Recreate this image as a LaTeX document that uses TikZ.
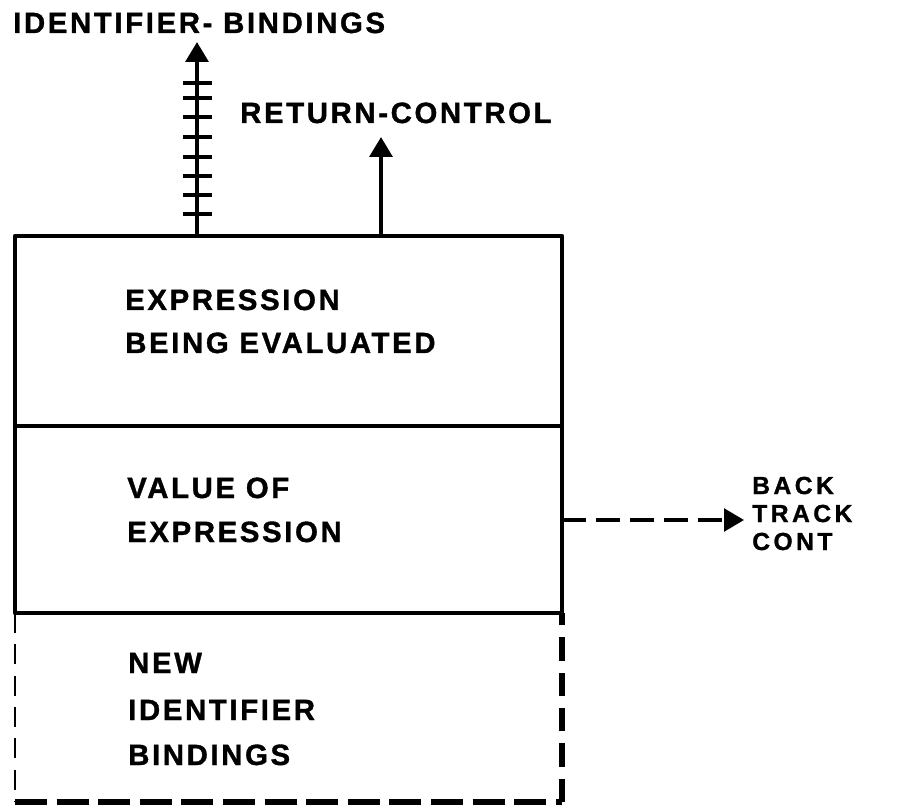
\documentclass[tikz,border=0pt]{standalone}
\usepackage{fontspec}
\setmainfont{Liberation Sans}[LetterSpace=9, BoldFeatures={FakeBold=1.2}]
\usetikzlibrary{arrows.meta}
\begin{document}
\begin{tikzpicture}[x=0.75pt,y=-0.75pt,
  lettering/.style={anchor=base west, inner sep=0pt, font=\bfseries\fontsize{22}{26}\selectfont},
  smallletter/.style={lettering,
    font=\bfseries\fontsize{18.5}{22}\selectfont\addfontfeature{LetterSpace=14},
    text height=13pt, text depth=0pt},
  frame/.style={line width=3.4pt, line join=round},
  flow/.style={line width=3.2pt, -{Triangle[length=15pt,width=17pt]}},
  hatch/.style={line width=2.6pt},
  backflow/.style={flow, line width=2.6pt, dash pattern=on 18pt off 7.5pt},
  sideghost/.style={line width=1.6pt, dash pattern=on 15pt off 8.5pt},
  baseghost/.style={line width=3.8pt, dash pattern=on 24pt off 7.2pt},
  rightghost/.style={line width=3.8pt, dash pattern=on 17.5pt off 9pt}]
\useasboundingbox (0,0) rectangle (904,806);

% corners of the record
\coordinate (tl) at (15,236);
\coordinate (tr) at (562,236);
\coordinate (ml) at (15,426);
\coordinate (mr) at (562,426);
\coordinate (bl) at (15,613);
\coordinate (br) at (562,613);
\coordinate (gl) at (15,802);
\coordinate (gr) at (562,802);

% solid record: expression and value
\draw[frame] (tl) rectangle (br);
\draw[frame] (ml) -- (mr);

% dashed extension: new bindings
\draw[sideghost] (bl) -- (gl);
\draw[baseghost] (gl) -- (gr);
\draw[rightghost] (gr) -- (br);

% texts inside the record
\node[lettering] (e1) at (125,310) {EXPRESSION};
\node[lettering] (e2) at (125,353) {BEING EVALUATED};
\node[lettering] (v1) at (127,498) {VALUE OF};
\node[lettering] (v2) at (127,542) {EXPRESSION};
\node[lettering] (n1) at (128,673) {NEW};
\node[lettering] (n2) at (128,720) {IDENTIFIER};
\node[lettering] (n3) at (128,765) {BINDINGS};

% outgoing links
\coordinate (idbase) at (197,236);
\coordinate (idtip) at (197,42);
\coordinate (rcbase) at (381,236);
\coordinate (rctip) at (381,137);
\coordinate (btbase) at (562,520);
\coordinate (bttip) at (744,520);

\draw[flow] (idbase) -- (idtip);
\foreach \ty in {83,98,117,137,157,176,195,214}
  \draw[hatch] (183,\ty) -- (212,\ty);
\draw[flow] (rcbase) -- (rctip);
\draw[backflow] (btbase) -- (bttip);

% link labels
\node[lettering] (idl) at (13,33) {IDENTIFIER- BINDINGS};
\node[lettering] (rcl) at (240,123) {RETURN-CONTROL};
\node[smallletter] (bt1) at (752,494) {BACK};
\node[smallletter] (bt2) at (752,522) {TRACK};
\node[smallletter] (bt3) at (752,550) {CONT};
\end{tikzpicture}
\end{document}
